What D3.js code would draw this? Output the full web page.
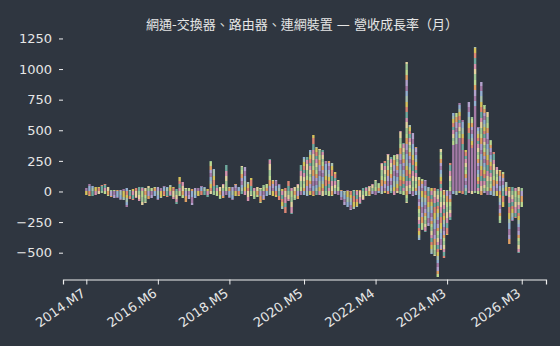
<!DOCTYPE html>
<html>
<head>
<meta charset="utf-8">
<script src="https://cdn.jsdelivr.net/npm/d3@7"></script>
<style>
    body { margin: 0; background: #2f3640; }
    svg { display: block; font-family: "DejaVu Sans", "Noto Sans CJK TC", sans-serif; }
</style>
</head>
<body>
<script>
//wrap everything in an anonymous function so nothing lands in global scope
(function () {

    //chart title
    var title = "網通-交換器、路由器、連網裝置 — 營收成長率（月）";

    //month categories: 2014.M7 .. 2026.M3
    var firstYear = 2014, firstMonth = 7, monthCount = 141;

    //sum of positive company growth rates per month (%)
    var upTotals = [
        30, 60, 45, 35, 40, 55, 60, 35, 15, 10,
        10, 15, 20, 25, 10, 20, 30, 35, 40, 30,
        45, 30, 40, 35, 30, 45, 40, 55, 35, 20,
        120, 80, 30, 25, 20, 30, 25, 45, 35, 20,
        250, 180, 55, 40, 60, 215, 40, 35, 60, 40,
        210, 200, 80, 110, 25, 40, 30, 50, 60, 265,
        95, 90, 60, 20, 25, 85, 30, 40, 60, 215,
        285, 285, 340, 460, 365, 350, 340, 245, 245, 230,
        160, 95, 10, 5, 10, 5, 10, 15, 10, 30,
        40, 45, 60, 95, 70, 230, 245, 310, 285, 300,
        310, 490, 400, 1060, 545, 475, 365, 120, 105, 95,
        40, 25, 30, 20, 350, 10, 10, 230, 640, 640,
        720, 585, 340, 735, 610, 1180, 530, 895, 705, 650,
        420, 325, 200, 175, 160, 80, 40, 40, 25, 40, 25
    ];

    //sum of negative company growth rates per month (%)
    var downTotals = [
        -30, -40, -35, -25, -20, -15, -20, -30, -40, -55,
        -50, -60, -70, -125, -65, -70, -55, -80, -110, -90,
        -60, -55, -40, -60, -50, -40, -45, -35, -60, -100,
        -40, -55, -85, -60, -110, -50, -40, -25, -30, -45,
        -20, -30, -40, -60, -50, -30, -55, -70, -35, -40,
        -20, -25, -75, -35, -60, -45, -95, -70, -40, -30,
        -40, -45, -70, -140, -175, -80, -175, -70, -60, -30,
        -25, -35, -30, -40, -30, -25, -35, -30, -40, -30,
        -20, -25, -70, -110, -130, -150, -140, -120, -100, -60,
        -35, -30, -20, -25, -15, -20, -15, -20, -15, -25,
        -15, -20, -30, -95, -20, -40, -30, -395, -315, -330,
        -285, -505, -530, -695, -480, -545, -355, -230, -20, -25,
        -15, -20, -30, -15, -20, -10, -20, -25, -15, -30,
        -25, -35, -40, -260, -125, -40, -425, -245, -220, -505, -125
    ];

    //months where one company (purple) carries most of the rise
    var leadMonths = [118, 119, 120, 121, 123, 124, 125];

    //x tick labels
    var tickLabels = ["2014.M7", "2016.M6", "2018.M5", "2020.M5", "2022.M4", "2024.M3", "2026.M3"];

    //y ticks
    var yTicks = [-500, -250, 0, 250, 500, 750, 1000, 1250];

    //company colours and the value heights of the stacked blocks
    var palette = ["#a47aa6", "#6faa9e", "#e0a064", "#d6c25c", "#9fc594", "#94b0d2",
        "#d593ae", "#b3a2cc", "#dc8674", "#bcd88f", "#a9c2b0", "#e3d3a0"];
    var blockSizes = [32, 44, 26, 38, 30, 48];

    //build month labels
    var months = [];
    for (var m = 0; m < monthCount; m++) {
        var t = firstMonth - 1 + m;
        months.push((firstYear + Math.floor(t / 12)) + ".M" + (t % 12 + 1));
    }

    var width = 560, height = 346;

    var svg = d3.select("body")
        .append("svg")
        .attr("width", width)
        .attr("height", height);

    svg.append("rect")
        .attr("width", width)
        .attr("height", height)
        .attr("fill", "#2f3640");

    //scales
    var x = d3.scaleLinear()
        .domain([-7.5, 147.8])
        .range([63, 546]);

    var y = d3.scaleLinear()
        .domain([-719, 1315])
        .range([279.5, 30.5]);

    //split each month's total into stacked company blocks
    var n = palette.length;
    var blocks = [];
    months.forEach(function (label, i) {
        [upTotals[i], downTotals[i]].forEach(function (total, side) {
            var sign = total < 0 ? -1 : 1;
            var abs = Math.abs(total);
            var lead = side == 0 && leadMonths.indexOf(i) >= 0;
            var v0 = 0, j = 0;
            while (v0 < abs) {
                var v1 = Math.min(abs, v0 + blockSizes[(i + j * 2 + side) % blockSizes.length]);
                var c = (i * 5 + j * 7 + side * 3) % n;
                if (lead && v1 <= abs * 0.62) c = 0;
                blocks.push({ i: i, v0: sign * v0, v1: sign * v1, c: c });
                v0 = v1;
                j++;
            }
        });
    });

    var barW = 2.4;

    svg.append("g")
        .selectAll("rect")
        .data(blocks)
        .enter()
        .append("rect")
        .attr("x", function (d) { return x(d.i) - barW / 2; })
        .attr("width", barW)
        .attr("y", function (d) { return Math.round(y(Math.max(d.v0, d.v1))); })
        .attr("height", function (d) {
            return Math.max(1, Math.round(y(Math.min(d.v0, d.v1))) - Math.round(y(Math.max(d.v0, d.v1))));
        })
        .attr("fill", function (d) { return palette[d.c]; });

    //x axis
    var xAxis = d3.axisBottom(x)
        .tickValues(tickLabels.map(function (l) { return months.indexOf(l); }))
        .tickSize(5)
        .tickFormat(function (d) { return months[d]; });

    var gx = svg.append("g")
        .attr("transform", "translate(0," + 279.5 + ")")
        .call(xAxis);

    gx.attr("font-family", "DejaVu Sans");
    gx.select(".domain").attr("stroke", "#f0f0f0").attr("stroke-width", 1.2);
    gx.selectAll(".tick line").attr("stroke", "#f0f0f0");
    gx.selectAll(".tick text")
        .attr("fill", "#e6e6e6")
        .attr("font-size", 13)
        .attr("text-anchor", "end")
        .attr("x", 0)
        .attr("y", 0)
        .attr("dy", "0.72em")
        .attr("transform", "translate(-6,8) rotate(-35)");

    //y axis, ticks only
    var yAxis = d3.axisLeft(y)
        .tickValues(yTicks)
        .tickSize(4)
        .tickPadding(7)
        .tickFormat(function (d) { return d < 0 ? "\u2212" + Math.abs(d) : d; });

    var gy = svg.append("g")
        .attr("transform", "translate(63,0)")
        .call(yAxis);

    gy.attr("font-family", "DejaVu Sans");
    gy.select(".domain").remove();
    gy.selectAll(".tick line").attr("stroke", "#f0f0f0");
    gy.selectAll(".tick text")
        .attr("fill", "#e6e6e6")
        .attr("font-size", 13);

    //title
    svg.append("text")
        .attr("x", 302)
        .attr("y", 29)
        .attr("text-anchor", "middle")
        .attr("fill", "#e6e6e6")
        .attr("font-size", 13)
        .text(title);

})();
</script>
</body>
</html>
